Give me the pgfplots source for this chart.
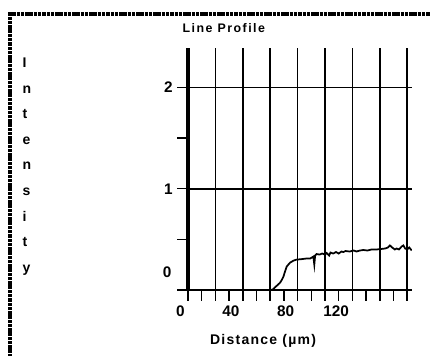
\documentclass[border=0pt]{standalone}
\usepackage{pgfplots}
\pgfplotsset{compat=1.18}
\usepackage{fontspec}
\setmainfont{Liberation Sans}
\newfontfamily\titlefont{Liberation Sans}[LetterSpace=12]
\newfontfamily\xlabfont{Liberation Sans}[LetterSpace=9]
\pgfplotstableread{
x y
0 0
60 0
62 0.005
63.5 0.027
65.5 0.05
67.2 0.072
68.5 0.10
69.6 0.13
71 0.19
72 0.23
73.5 0.255
74.5 0.27
77 0.29
79.3 0.30
83 0.305
86 0.31
89.1 0.31
91.5 0.33
92.2 0.25
92.8 0.34
93.9 0.355
96 0.35
98 0.36
100 0.35
101.2 0.365
103 0.34
104 0.37
106 0.36
108 0.375
110 0.36
112 0.38
113.4 0.375
115 0.385
118 0.38
121 0.39
123 0.38
125.5 0.39
128 0.395
131 0.39
134 0.40
137.7 0.40
141 0.405
144 0.41
146 0.42
147.4 0.44
149 0.42
151 0.40
152.3 0.41
154 0.40
156 0.43
157.2 0.44
158.5 0.41
160 0.40
161.5 0.42
163.3 0.39
}\profile
\begin{document}
\begin{tikzpicture}
\begin{axis}[
  scale only axis, width=168pt, height=181.5pt,
  xmin=0, xmax=163.5, ymin=0, ymax=2.39,
  axis x line=bottom, axis y line=left,
  x axis line style={-, line width=1.3pt},
  y axis line style={-, line width=2.8pt},
  xtick={0,20,...,160}, xticklabels={0,,40,,80,,120,,},
  minor x tick num=1,
  ytick={0,1,2}, yticklabels={,1,2}, minor y tick num=1,
  extra y ticks={0.18}, extra y tick labels={0},
  extra y tick style={major tick length=0pt, grid=none, yticklabel style={xshift=-9pt}},
  tick align=outside, major tick length=8pt, minor tick length=8pt,
  tick style={black, line width=1.1pt},
  grid=major, major grid style={black, line width=1.2pt},
  /pgf/number format/assume math mode=true,
  xticklabel style={anchor=north east, xshift=1pt, font=\bfseries\fontsize{11.5}{13}\selectfont},
  yticklabel style={font=\bfseries\fontsize{11.5}{13}\selectfont},
  title={Line Profile},
  every axis title/.style={at={(axis description cs:0.16,1.083)}, anchor=center,
    font=\titlefont\bfseries\fontsize{9.3}{11}\selectfont},
  xlabel={Distance (\textmu m)},
  every axis x label/.style={at={(axis description cs:0.335,-0.21)}, anchor=center,
    font=\xlabfont\bfseries\fontsize{10.5}{12}\selectfont},
  ylabel={I\\n\\t\\e\\n\\s\\i\\t\\y},
  every axis y label/.style={at={(axis description cs:-0.759,0.51)}, anchor=west, align=left,
    font=\bfseries\fontsize{10.5}{19.2}\selectfont},
]
\addplot[black, line width=1.3pt] table[x=x, y=y] {\profile};
\end{axis}
\draw[line width=2.6pt, dash pattern=on 2.6pt off 0.6pt] (-133.5pt,-60pt) -- (-133.5pt,207pt) -- (200pt,207pt);
\pgfresetboundingbox
\path[use as bounding box] (-141pt,-49.5pt) rectangle (181.5pt,217.5pt);
\end{tikzpicture}
\end{document}
